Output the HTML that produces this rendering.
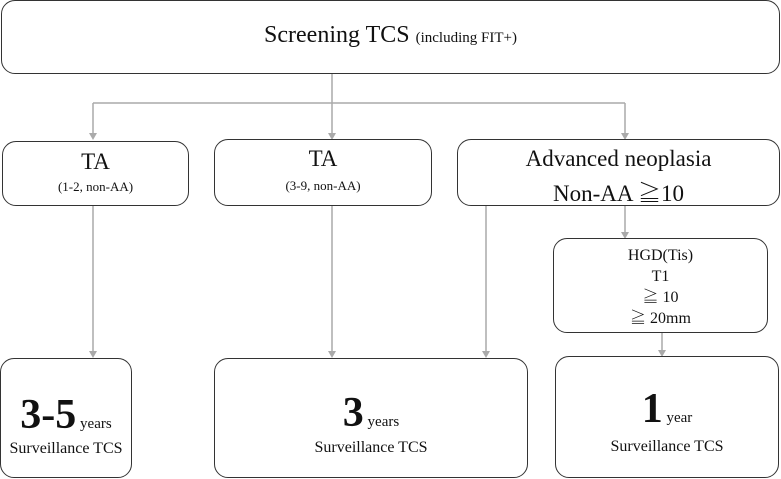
<!DOCTYPE html>
<html><head><meta charset="utf-8"><style>
body{margin:0;width:781px;height:479px;background:#fff;position:relative;overflow:hidden;font-family:"Liberation Serif","DejaVu Serif","Noto Serif CJK SC",serif;color:#111}
.b{position:absolute;box-sizing:border-box;border:1.5px solid #333;border-radius:14px;background:#fff;text-align:center}
.t{position:absolute;left:0;right:0;text-align:center;white-space:nowrap;font-family:"Liberation Serif","DejaVu Serif","Noto Serif CJK SC",serif}
svg{position:absolute;left:0;top:0}
</style></head><body>
<svg width="781" height="479">
<g stroke="#aaa" stroke-width="1.5" fill="none">
<path d="M332 73V103M93 103H625M93 103V137M332 103V137M625 103V137M93 205V355M332 205V355M486 205V355M625 205V236M662 332V355"/>
</g>
<g fill="#aaa">
<path d="M89 133L97 133L93 140Z M328 133L336 133L332 140Z M621 133L629 133L625 140Z M89 351L97 351L93 358Z M328 351L336 351L332 358Z M482 351L490 351L486 358Z M621 232L629 232L625 239Z M658 350L666 350L662 357Z"/>
</g>
</svg>
<div class="b" style="left:1px;top:0;width:779px;height:74px"><div class="t" style="top:21px;font-size:24px">Screening TCS <span style="font-size:15px">(including FIT+)</span></div></div>
<div class="b" style="left:2px;top:141px;width:187px;height:65px"><div class="t" style="top:7px;font-size:23px">TA</div><div class="t" style="top:37px;font-size:13px">(1-2, non-AA)</div></div>
<div class="b" style="left:214px;top:139px;width:218px;height:67px"><div class="t" style="top:6px;font-size:23px">TA</div><div class="t" style="top:38px;font-size:13px">(3-9, non-AA)</div></div>
<div class="b" style="left:457px;top:139px;width:323px;height:67px"><div class="t" style="top:6px;font-size:23px">Advanced neoplasia</div><div class="t" style="top:35px;font-size:23px">Non-AA ≧10</div></div>
<div class="b" style="left:553px;top:238px;width:215px;height:95px"><div class="t" style="top:6px;font-size:16px;line-height:21px">HGD(Tis)<br>T1<br>≧ 10<br>≧ 20mm</div></div>
<div class="b" style="left:0;top:358px;width:132px;height:120px"><div class="t" style="top:32px;font-size:42px;font-weight:bold">3-5<span style="font-size:15px;font-weight:normal"> years</span></div><div class="t" style="top:81px;font-size:16px">Surveillance TCS</div></div>
<div class="b" style="left:214px;top:358px;width:314px;height:120px"><div class="t" style="top:30px;font-size:42px;font-weight:bold">3<span style="font-size:15px;font-weight:normal"> years</span></div><div class="t" style="top:80px;font-size:16px">Surveillance TCS</div></div>
<div class="b" style="left:555px;top:356px;width:224px;height:122px"><div class="t" style="top:28px;font-size:42px;font-weight:bold">1<span style="font-size:15px;font-weight:normal"> year</span></div><div class="t" style="top:81px;font-size:16px">Surveillance TCS</div></div>
</body></html>
